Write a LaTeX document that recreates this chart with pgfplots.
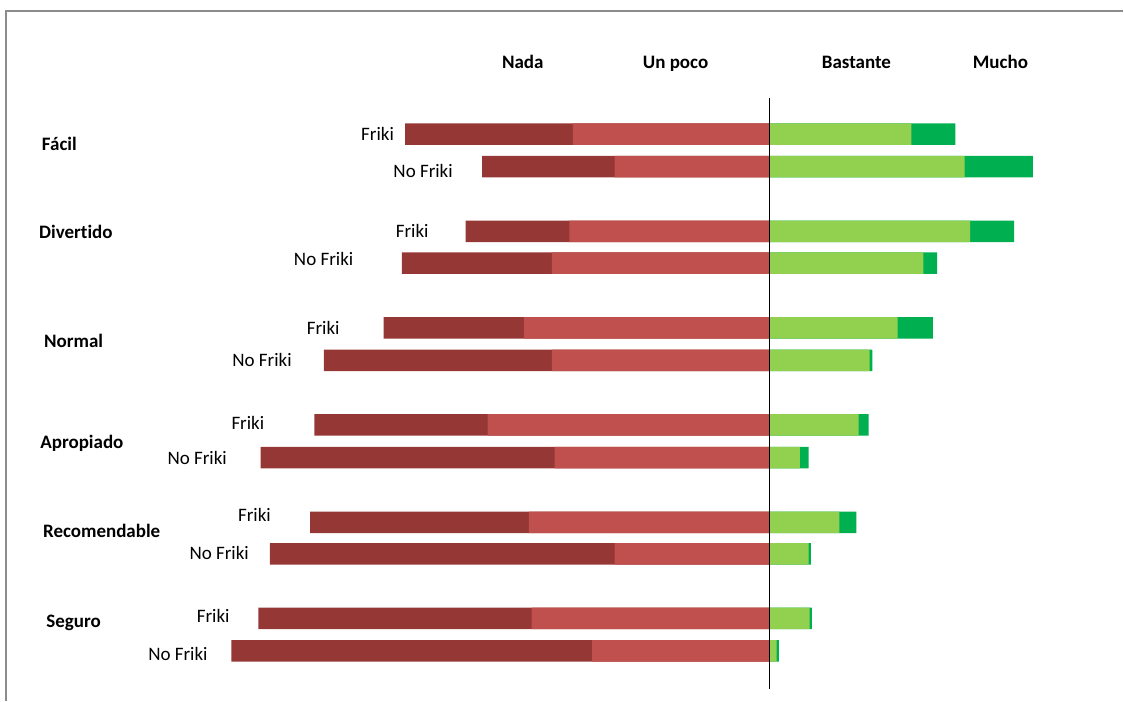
\documentclass[border=0pt]{standalone}
\usepackage{pgfplots}
\pgfplotsset{compat=1.18}
\usepackage{pgfplotstable}
\usepackage{fontspec}
\setmainfont{Carlito}[Ligatures=NoCommon]
\definecolor{nada}{HTML}{953735}
\definecolor{unpoco}{HTML}{C0504D}
\definecolor{bastante}{HTML}{92D050}
\definecolor{mucho}{HTML}{00B050}
\definecolor{frame}{HTML}{8C8C8C}
\tikzset{
  lbl/.style={font=\fontsize{19}{22}\selectfont, inner sep=0pt, anchor=east},
  cat/.style={font=\fontsize{19}{22}\selectfont\bfseries, inner sep=0pt, anchor=west},
  hdr/.style={font=\fontsize{19}{22}\selectfont\bfseries, inner sep=0pt, anchor=base},
}

% y = vertical position of each bar
% NU = -(Nada + Un poco), U = -(Un poco), BM = Bastante + Mucho, B = Bastante
\pgfplotstableread{
y     NU     U      BM    B
134.2 -66.3  -35.8  33.8  25.8
166.8 -52.3  -28.2  47.9  35.5
231.5 -55.3  -36.4  44.5  36.5
263.2 -66.9  -39.6  30.5  28.0
328.0 -70.2  -44.7  29.7  23.3
360.5 -81.1  -39.6  18.7  18.2
425.2 -82.8  -51.3  18.0  16.2
457.8 -92.6  -39.1  7.1   5.5
522.7 -83.6  -43.8  15.8  12.7
554.3 -90.9  -28.2  7.5   7.1
618.7 -93.0  -43.3  7.7   7.3
651.3 -97.9  -32.3  1.7   1.3
}\datatable

\begin{document}
\begin{tikzpicture}
\begin{axis}[
  scale only axis,
  width=1124pt, height=701pt,
  xmin=-140, xmax=64.3636,
  ymin=0, ymax=701,
  y dir=reverse,
  hide axis,
  clip=false,
  xbar,
  bar shift=0pt,
  bar width=21.5pt,
]
\path (rel axis cs:0,0) rectangle (rel axis cs:1,1);
% frame
\draw[frame, line width=1.3pt] (axis cs:-138.9,701) -- (axis cs:-138.9,11) -- (axis cs:64.3636,11);

\addplot[draw=none, fill=nada] table[x=NU, y=y] {\datatable};
\addplot[draw=none, fill=unpoco] table[x=U, y=y] {\datatable};
\addplot[draw=none, fill=mucho] table[x=BM, y=y] {\datatable};
\addplot[draw=none, fill=bastante] table[x=B, y=y] {\datatable};

% center line
\draw[black, line width=1.2pt] (axis cs:0,98) -- (axis cs:0,689);

% header
\node[hdr] at (axis cs:-44.9,68.5) {Nada};
\node[hdr] at (axis cs:-17.1,68.5) {Un poco};
\node[hdr] at (axis cs:15.8,68.5) {Bastante};
\node[hdr] at (axis cs:42.0,68.5) {Mucho};

% categories
\node[cat] at (axis cs:-132.4,143.5) {Fácil};
\node[cat] at (axis cs:-132.9,232.5) {Divertido};
\node[cat] at (axis cs:-132.0,341.5) {Normal};
\node[cat] at (axis cs:-132.7,443.5) {Apropiado};
\node[cat] at (axis cs:-132.2,531.5) {Recomendable};
\node[cat] at (axis cs:-131.6,623.5) {Seguro};

% group labels
\node[lbl] at (axis cs:-68.3,134) {Friki};
\node[lbl] at (axis cs:-57.6,171) {No Friki};
\node[lbl] at (axis cs:-62.0,231) {Friki};
\node[lbl] at (axis cs:-75.7,259) {No Friki};
\node[lbl] at (axis cs:-78.2,327.7) {Friki};
\node[lbl] at (axis cs:-86.9,360) {No Friki};
\node[lbl] at (axis cs:-91.9,423) {Friki};
\node[lbl] at (axis cs:-98.7,458) {No Friki};
\node[lbl] at (axis cs:-90.7,515) {Friki};
\node[lbl] at (axis cs:-94.7,553) {No Friki};
\node[lbl] at (axis cs:-98.2,616.7) {Friki};
\node[lbl] at (axis cs:-102.2,654.3) {No Friki};
\end{axis}
\end{tikzpicture}
\end{document}
